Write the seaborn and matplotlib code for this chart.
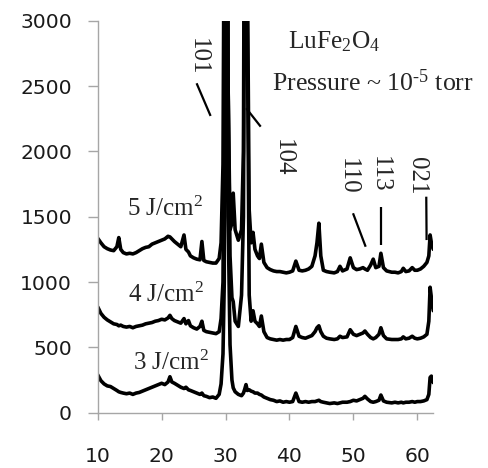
import matplotlib
matplotlib.use("Agg")
import matplotlib.pyplot as plt
import seaborn as sns
import pandas as pd

# ---------------- data ----------------
two_theta = [
    10, 10.5, 11, 11.5, 12, 12.5, 13,
    13.3, 13.6, 14, 14.5, 15, 15.5, 16, 16.5, 17, 17.5,
    18, 18.5, 19, 19.5, 20, 20.5, 21, 21.3, 21.6, 22,
    22.5, 23, 23.5, 23.8, 24.2, 24.5, 25, 25.5, 26, 26.3,
    26.6, 27, 27.5, 28, 28.5, 29, 29.3, 29.6, 29.8, 30.0,
    30.2, 30.4, 30.7, 31.0, 31.2, 31.5, 32.0, 32.5, 32.8, 33.0,
    33.2, 33.4, 33.7, 34.0, 34.3, 34.6, 35.0, 35.3, 35.6, 36.0,
    36.5, 37, 37.5, 38, 38.5, 39, 39.5, 40, 40.5, 41,
    41.5, 42, 42.5, 43, 43.5, 44, 44.3, 44.6, 44.9, 45.3,
    45.8, 46.3, 47, 47.5, 47.9, 48.3, 49, 49.5, 50, 50.5,
    51, 51.5, 51.8, 52.2, 52.7, 53.1, 53.5, 54, 54.3, 54.7,
    55.2, 56, 56.5, 57, 57.5, 57.8, 58.2, 58.7, 59.2, 59.6,
    60, 60.5, 61, 61.5, 61.8, 62.0, 62.2, 62.5,
]

intensity_3J = [
    290, 245, 220, 205, 200, 185, 170,
    160, 155, 150, 145, 150, 140, 150, 155, 165, 175,
    185, 195, 205, 215, 225, 215, 235, 275, 235, 225,
    210, 195, 185, 195, 175, 170, 160, 150, 140, 150,
    130, 125, 115, 120, 110, 140, 220, 450, 1000, 6000,
    4000, 1500, 520, 250, 190, 160, 140, 130, 150, 180,
    215, 170, 175, 165, 160, 150, 150, 140, 135, 120,
    110, 100, 95, 85, 90, 80, 85, 80, 85, 150,
    85, 80, 85, 80, 85, 85, 90, 95, 85, 80,
    75, 70, 75, 70, 75, 80, 80, 85, 95, 90,
    100, 110, 125, 105, 85, 80, 85, 95, 135, 90,
    80, 75, 80, 75, 80, 75, 80, 80, 85, 80,
    85, 85, 90, 100, 140, 270, 280, 230,
]

intensity_4J = [
    810, 760, 730, 710, 695, 680, 675,
    665, 670, 660, 655, 660, 650, 660, 665, 670, 680,
    685, 690, 700, 705, 715, 710, 725, 745, 720, 705,
    695, 685, 720, 680, 705, 665, 650, 640, 660, 700,
    630, 620, 615, 610, 605, 620, 720, 1000, 2500, 9000,
    6000, 2500, 1200, 880, 850, 700, 660, 900, 1500, 4000,
    8000, 3000, 900, 700, 780, 700, 680, 660, 740, 620,
    575, 565, 560, 555, 560, 555, 560, 560, 575, 660,
    585, 575, 570, 580, 590, 620, 650, 665, 620, 585,
    570, 565, 560, 565, 585, 575, 580, 635, 600, 590,
    600, 610, 625, 600, 575, 565, 575, 600, 650, 590,
    565, 560, 560, 560, 565, 580, 565, 570, 585, 570,
    565, 570, 580, 600, 700, 960, 880, 780,
]

intensity_5J = [
    1335, 1300, 1270, 1255, 1245, 1240, 1270,
    1340, 1250, 1225, 1215, 1220, 1215, 1225, 1240, 1255, 1265,
    1270, 1290, 1300, 1310, 1320, 1330, 1350, 1345, 1330, 1310,
    1290, 1270, 1360, 1250, 1230, 1200, 1185, 1175, 1170, 1310,
    1165, 1155, 1150, 1145, 1145, 1180, 1300, 1900, 4000, 9000,
    6000, 2500, 1400, 1450, 1680, 1400, 1320, 1400, 2000, 5000,
    9000, 3500, 1550, 1300, 1380, 1250, 1200, 1180, 1290, 1150,
    1110, 1095, 1085, 1080, 1080, 1075, 1070, 1075, 1085, 1160,
    1090, 1085, 1090, 1100, 1120, 1200, 1300, 1450, 1200, 1090,
    1080, 1075, 1070, 1080, 1120, 1085, 1100, 1185, 1110, 1095,
    1100, 1110, 1100, 1090, 1130, 1175, 1110, 1120, 1220, 1110,
    1085, 1075, 1075, 1070, 1080, 1105, 1080, 1085, 1110, 1090,
    1090, 1100, 1120, 1150, 1200, 1360, 1300, 1250,
]

series_names = ["3 J/cm2", "4 J/cm2", "5 J/cm2"]
y_ticks = [0, 500, 1000, 1500, 2000, 2500, 3000]
x_ticks = [10, 20, 30, 40, 50, 60]

peak_labels = ["101", "104", "110", "113", "021"]
peak_label_pos = [(25.6, 2722), (38.95, 1953), (49.11, 1811), (54.11, 1827), (59.89, 1811)]
peak_leader_lines = [((25.47, 2521), (27.66, 2271)),
                     ((33.23, 2330), (35.50, 2189)),
                     ((49.94, 1526), (51.92, 1270)),
                     ((54.27, 1577), (54.27, 1283)),
                     ((61.40, 1653), (61.45, 1321))]

# ---------------- build frame ----------------
frames = []
for name, vals in zip(series_names, [intensity_3J, intensity_4J, intensity_5J]):
    frames.append(pd.DataFrame({"two_theta": two_theta, "intensity": vals, "series": name}))
df = pd.concat(frames, ignore_index=True)

# ---------------- style ----------------
sns.set_theme(style="ticks")
plt.rcParams["font.family"] = ["DejaVu Sans"]
plt.rcParams["mathtext.fontset"] = "custom"
plt.rcParams["mathtext.rm"] = "Liberation Serif"
plt.rcParams["mathtext.it"] = "Liberation Serif:italic"
plt.rcParams["mathtext.bf"] = "Liberation Serif:bold"

fig = plt.figure(figsize=(4.89, 4.68), dpi=100)
ax = fig.add_axes([0.1998, 0.1182, 0.6863, 0.8376])

sns.lineplot(data=df, x="two_theta", y="intensity", hue="series",
             palette=["black", "black", "black"], estimator=None, sort=False,
             legend=False, linewidth=2.6, ax=ax)

ax.set_xlim(10, 62.5)
ax.set_ylim(0, 3000)
ax.set_xticks(x_ticks)
ax.set_yticks(y_ticks)
ax.set_xlabel("")
ax.set_ylabel("")

spine_col = "#a6a6a6"
for s in ["top", "right"]:
    ax.spines[s].set_visible(False)
for s in ["left", "bottom"]:
    ax.spines[s].set_color(spine_col)
    ax.spines[s].set_linewidth(1.0)

ax.tick_params(axis="y", direction="out", length=7, width=1.0, color=spine_col,
               labelsize=14.6, labelcolor="#1a1a1a", pad=11.5)
ax.tick_params(axis="x", direction="out", length=5, width=1.0, color=spine_col,
               labelsize=14.6, labelcolor="#1a1a1a", pad=20)

serif = "Liberation Serif"
fs = 18
ax.text(14.53, 1503, "5 J/cm$^2$", family=serif, fontsize=fs, ha="left", va="baseline")
ax.text(14.78, 850, "4 J/cm$^2$", family=serif, fontsize=fs, ha="left", va="baseline")
ax.text(15.56, 327, "3 J/cm$^2$", family=serif, fontsize=fs, ha="left", va="baseline")
ax.text(39.78, 2789, "LuFe$_2$O$_4$", family=serif, fontsize=18.3, ha="left", va="baseline")
ax.text(37.19, 2464, "Pressure ~ 10$^{\\text{-}5}$ torr", family=serif, fontsize=18.6,
        ha="left", va="baseline")

for lab, (px, py) in zip(peak_labels, peak_label_pos):
    ax.text(px, py, lab, family=serif, fontsize=fs, rotation=-90, ha="center", va="center")

for (p0, p1) in peak_leader_lines:
    ax.plot([p0[0], p1[0]], [p0[1], p1[1]], color="black", lw=1.6, solid_capstyle="butt")

fig.savefig("out.png", dpi=100)
